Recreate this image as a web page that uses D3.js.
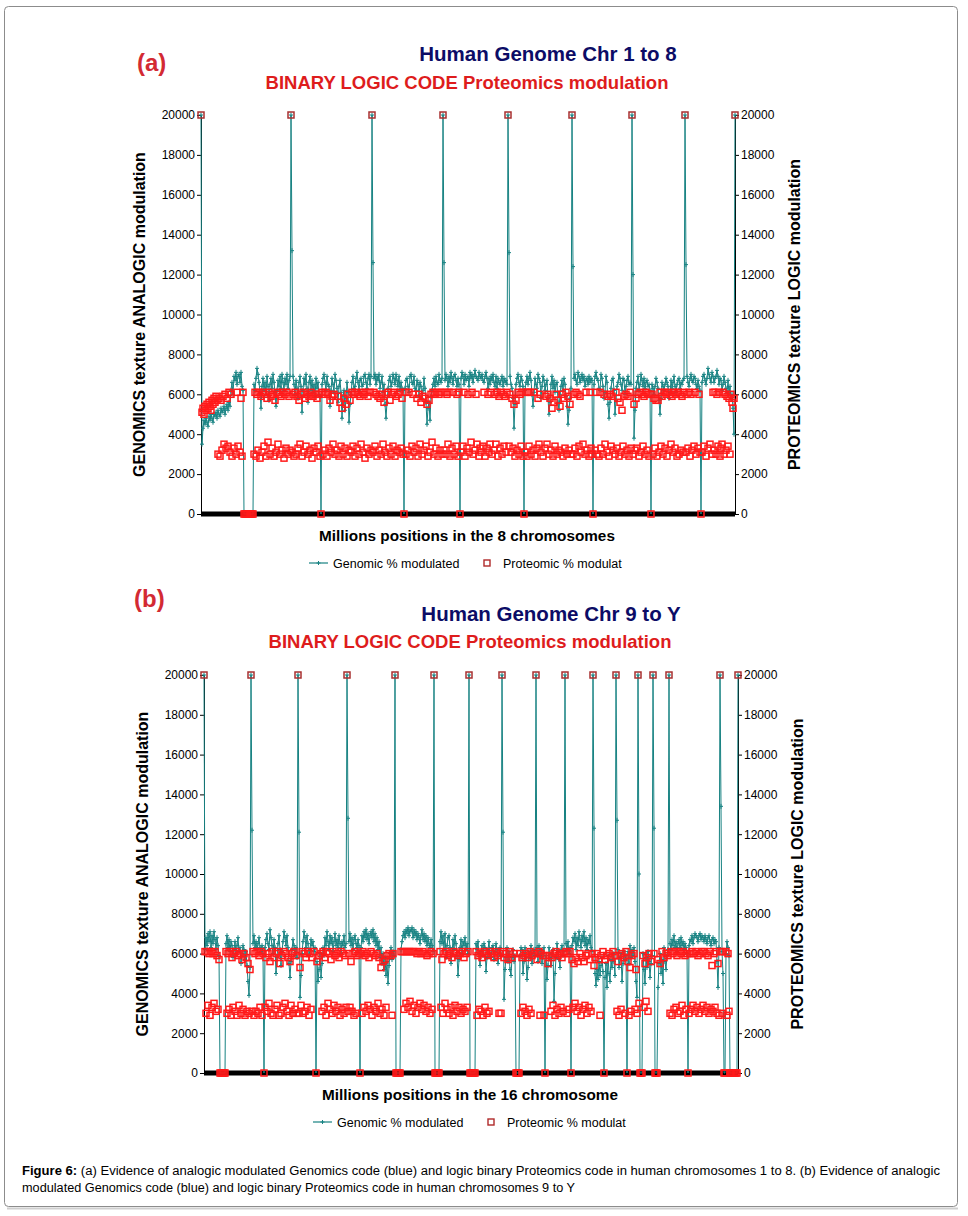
<!DOCTYPE html>
<html><head><meta charset="utf-8">
<script src="https://cdn.jsdelivr.net/npm/d3@7"></script>
<style>
body{margin:0;background:#fff}
svg{display:block}
text{font-family:"Liberation Sans",Arial,Helvetica,sans-serif}
</style>
</head><body>
<svg id="c" width="968" height="1216"></svg>
<script>
// ---------- DATA ----------
const yTicks = [0,2000,4000,6000,8000,10000,12000,14000,16000,18000,20000];

const genomicA = [20000,
3500,4300,4700,4500,4800,4600,4400,4900,4700,5000,
4800,4600,5000,4900,5100,4800,5200,5000,4900,5300,
5100,5200,5400,5000,5300,5500,5200,5600,5400,6200,
6600,6000,6900,6700,7100,6500,6900,7000,6600,7100,
6400,6200,
0,0,0,0,0,0,0,0,0,0,
6500,6200,6800,7300,7000,6600,6100,5300,6400,6800,
6200,6600,6000,6900,6400,5700,6500,6800,6300,7000,
6600,6100,5400,6200,6700,6400,6900,6300,7000,6600,
6200,6800,6500,7000,6300,6700,6900,
20000,13200,
6900,6500,6000,6700,6300,5800,6600,6900,6400,5100,
6200,6800,6500,7000,6300,5600,6600,6900,6200,6700,
6100,6500,5900,6800,6300,6600,6000,5900,
0,
6500,6800,7000,6600,6200,6900,6500,6400,5400,6200,
6800,6500,6100,7000,6700,6300,5600,6400,6700,6100,
4800,5900,6200,5200,5800,6600,6100,4600,5500,6000,
6600,6900,6300,6400,6800,7100,6600,6200,6700,6800,
6400,6500,6900,7000,6600,6300,6800,7000,6500,6900,
20000,12600,
6800,7000,6500,6900,6700,7000,6300,6600,6900,6100,
6500,5500,4800,5600,6300,6700,6900,6400,6600,7000,
6800,6500,7000,6700,6400,6900,6200,6600,6300,6200,
0,
6300,6700,6800,6400,6100,6900,7000,6600,6500,6900,
6300,6200,6700,6500,5900,6600,6400,5800,6200,6800,
6300,5600,4500,5300,5600,4700,5900,6200,6500,6800,
6400,6900,6600,6500,7000,6700,6600,6800,
20000,12600,
6700,7000,6800,6400,6900,6600,7100,6800,6500,6900,
7000,6700,6400,6800,6500,
0,
6800,7100,6900,6500,7000,6700,6800,6900,6400,7100,
6800,7000,6600,6900,7200,6900,6800,6700,7100,6900,
6800,7000,6700,6600,6900,7100,6800,6300,6800,6500,
6900,6700,7000,6600,6400,6900,6300,6800,6600,6500,
6700,6900,6400,6800,6600,6700,6500,
20000,13100,
6900,6500,6300,5800,4300,5500,6500,6800,7000,6600,
6400,6900,6700,6400,
0,
6200,6600,6900,6500,6800,7100,6700,6000,5400,6100,
6800,6500,6300,7000,6800,6600,5800,6400,6900,6700,
6200,6500,6700,5800,5000,5600,6500,6900,6300,6700,
6100,6500,6600,5600,5200,6000,6400,6700,6200,6800,
6500,5900,5400,4500,5200,5800,6300,
20000,12400,
6800,7000,6700,6500,7100,6900,6600,6800,7000,6700,
6900,6400,6700,6800,6500,6900,6600,6800,6700,
0,
6500,6900,7100,6800,6700,6300,6200,7000,6800,6400,
5800,6100,6900,6600,5500,4800,5600,6300,6700,6800,
6200,5000,5700,6400,6600,7000,6800,6500,6200,6800,
6700,6000,6400,6700,6900,6500,6600,6500,
20000,12000,
3800,5200,6300,6600,6900,6200,6500,7000,6700,6400,
6800,6300,6600,6700,6400,6500,6200,
0,
6500,6300,6000,6400,6800,6600,6300,5700,5000,5800,
6600,6400,6200,6500,6800,6600,6400,5800,6100,6700,
6300,6600,6900,6400,6100,6500,6700,6800,6300,6600,
6500,6700,6800,
20000,12500,
6900,6600,6400,6800,7000,6700,6600,6900,6800,6500,
6300,6700,6400,6200,
0,
6600,6900,7000,6700,6500,6800,7300,7000,6800,6600,
7100,6900,6600,6800,6900,7200,6900,6500,6800,6700,
6200,6500,6900,6600,6300,6100,6700,6000,6400,5800,
6000,5300,4000,
20000];

const proteomicA = [20000,
5100,5300,5000,5400,5200,5500,5300,5600,5400,5200,
5700,5500,5800,5600,5900,5700,3000,5800,2900,5700,
3200,5900,3500,6000,3300,5800,3400,6100,3100,6000,
2900,null,3300,null,3000,6100,3400,null,3100,5800,
2900,6100,
0,0,0,0,0,0,0,0,0,0,
3000,6100,2900,6000,3200,6100,2800,5900,3100,6100,
3400,6000,2900,5800,3600,6100,3000,5900,3300,6000,
2900,5700,3100,6100,3500,6000,3000,5900,3200,6100,
2800,6000,3300,6100,3000,5900,3200,
20000,3100,
6000,2900,6100,3000,5900,3300,5700,3500,6000,2900,
6100,3100,5800,3400,6000,3000,5900,3200,6100,2800,
5900,3300,6000,3100,5800,3400,6000,2900,
0,
6100,3000,6000,3200,6100,2900,6000,3300,5700,3100,
5900,3500,6000,3000,null,3200,5900,2900,5600,3400,
5300,3000,5800,3300,5500,2900,6000,3200,5700,3100,
6100,3400,6000,2900,6100,3300,6000,3000,5900,3500,
6100,3100,6000,2800,6100,3300,5900,3000,6100,3200,
20000,3100,
6100,3400,6000,2900,5900,3200,5800,3000,6000,3500,
5600,3100,6000,2900,6100,3300,5700,3000,6000,3400,
6100,2900,5900,3200,6000,3100,6100,3300,5800,3000,
0,
6100,3000,null,3200,6100,2900,null,3400,6000,3100,
null,3300,5800,2900,6000,3500,5600,3000,5900,3200,
5800,3400,5500,2900,5700,3100,6000,3600,6100,3000,
6000,3300,6100,2900,6000,3200,6100,3000,
20000,3200,
6100,3000,6000,3500,6100,2900,null,3300,6100,3000,
null,3400,6000,2900,6100,
0,
3100,null,3400,6100,2900,null,3300,6000,3100,null,
3600,6100,3000,null,3200,6000,3500,null,2900,3300,
3100,null,3400,6100,2900,null,3300,6000,3100,3500,
6100,3000,null,3200,6000,3500,6100,2900,5900,3300,
6100,3000,6000,3400,5900,3100,6100,
20000,3400,
6000,3100,5800,3300,5500,2900,5700,3200,6100,3000,
6000,3400,6100,2900,
0,
3100,6100,2900,6100,3400,6100,3000,null,3200,6100,
2900,null,3300,5800,3500,6000,3100,null,2900,null,
3300,5900,3500,6000,3000,5800,3200,5300,2900,5600,
3400,6000,3000,5700,3200,5400,3100,6000,2900,5800,
3300,6100,3000,5900,3200,5500,3000,
20000,3000,
6000,3300,6100,2900,6000,3400,5900,3100,null,3500,
null,3000,6100,3200,null,2900,6100,3300,3000,
0,
null,3200,6100,3000,null,2900,6100,3300,null,3000,
6000,3500,null,3100,5900,2900,6000,3400,5900,3200,
null,3000,6100,3300,5800,2900,5600,3100,5200,3400,
5900,3000,6000,3200,5900,2900,6100,3300,
20000,3000,
5500,3200,5800,3300,6000,2900,6100,3100,6000,3400,
5900,3000,6100,3200,6000,2900,6000,
0,
6000,3000,5800,3300,5700,2900,5700,3100,6100,3400,
5900,3000,6100,3300,6000,2900,6100,3200,6000,3500,
5900,3100,6100,3300,6000,2900,6100,3000,6000,3200,
5900,3100,6100,
20000,3100,
6000,3300,6100,2900,6000,3200,null,3400,6100,3000,
null,3300,6000,3100,
0,
3100,null,3400,null,2900,null,3300,null,3500,null,
3000,6100,3200,6100,3000,6000,3400,6100,2900,3300,
3500,6100,3000,6000,3200,5900,3400,5800,3000,6000,
5600,5300,5800,
20000];

const genomicB = [20000,
6200,6800,6400,7000,6600,7100,6300,6900,6500,7100,6700,6200,6800,6400,5900,
0,0,0,0,0,0,
6500,6900,6300,6700,6100,6600,6400,5800,6200,6600,
6000,6400,6800,6100,6300,5500,6000,6400,6200,5700,
6100,5400,4600,3900,5300,
20000,12200,
6500,6900,6300,6600,6200,6500,6800,6300,6100,6400,6000,
0,
6300,6700,7000,6500,6200,7200,6800,6400,6000,6700,
6300,5000,5800,6500,6900,6200,5400,6100,6600,7100,
6800,6400,6900,6300,5500,4800,5600,6200,6700,6400,
5900,6300,5800,
20000,12100,
3800,4900,6000,6600,7100,6800,6300,6900,6500,5900,6200,6700,6400,6600,6100,6300,
0,
5600,4600,5200,6000,4800,5500,6300,5900,6800,6400,
7100,6600,6200,6900,6500,6800,6100,6600,7000,6400,
6700,6300,6900,6500,6000,6600,6400,6900,6300,6500,
20000,12800,
6600,7000,6400,6800,6200,6700,6900,6500,6300,6700,6400,
0,
6300,6900,6600,7100,6800,7200,6700,7000,6500,6900,
7100,6800,7200,6600,7000,6400,6800,6200,6600,5800,
6300,5500,6000,5200,5800,4900,5600,4500,5400,6000,
6300,5700,6100,5900,
20000,
0,0,0,0,0,
6200,6600,6900,7100,6800,7200,7000,7300,6900,7200,
7100,7300,6800,7200,6900,7100,6700,7000,6800,6500,
6900,7200,6700,7000,6600,6900,6400,6800,6500,6300,
6700,6400,6100,
20000,
0,0,0,0,0,
6600,7100,6500,6900,6200,7000,5800,6400,6800,6900,
6300,5500,6000,6700,6200,6900,6500,5900,4900,5700,
6300,6700,6000,6600,6400,6800,6200,6500,6000,
20000,
0,0,0,0,0,0,
6500,6200,6600,6000,5400,6100,6400,5900,6500,6300,
5100,5800,6200,6600,6000,5800,6300,6400,5700,6100,
6500,6200,5500,6000,6300,5900,
20000,12100,
3700,5200,5800,6300,5600,6100,5200,4900,5800,6200,5600,5900,
0,0,0,0,
5900,6300,6200,5000,5600,6300,5800,4700,5300,6100,5800,6400,5500,6000,6200,5900,
20000,
6300,5600,6400,5900,6200,5500,6000,6300,
0,
5900,4700,5400,6300,5800,5400,6000,6200,3600,5000,
5800,6500,6100,5700,5300,6200,6400,5900,6100,
20000,
6500,6200,6600,6000,6300,
0,
6400,6800,6600,7000,6200,6800,6400,7100,6700,6300,
6900,6600,7100,6400,6800,6200,6700,6500,6900,6300,6100,
20000,12300,
5000,4400,5200,4700,5600,4900,5400,5800,5100,
0,
4800,5500,4300,5900,5000,4600,5700,5300,6000,5600,4900,
20000,12700,
6200,5300,5800,6000,4600,5500,6100,5700,5900,
0,
6100,5500,6400,5800,6200,5900,6300,5600,4600,3800,
20000,10000,
0,0,0,
6000,5200,4500,5800,5300,6100,5600,4800,5500,5900,
20000,12300,
0,0,0,
4300,5500,6000,5000,5700,4500,6300,5600,5200,5900,6200,
20000,
6500,6200,6700,6400,6900,6300,6600,6100,6500,6700,
6300,6800,6400,6600,6200,6500,6300,6000,
0,
6400,6700,6600,6900,6500,6800,7000,6900,6800,6600,
6900,7000,6700,6900,6800,6600,6900,6700,6500,6800,
6900,6600,6400,6700,6800,6500,6700,6600,5600,4300,6300,
20000,13400,
6100,5000,
0,0,
6000,6600,6300,5900,
0,0,0,0,0,0,0,0,
20000];

const proteomicB = [20000,
6100,3000,6100,3400,6000,2900,6100,3300,6000,3500,6100,3100,5900,3200,5700,
0,0,0,0,0,0,
6100,3000,6000,3200,6100,2900,5800,3300,6000,3100,
6100,2900,5900,3400,6000,3000,5700,3200,6000,2900,
5800,3100,5500,3000,5200,
20000,3100,
6100,2900,6000,3100,6100,3000,5900,3300,6100,2900,6000,
0,
3300,5800,3100,6000,3500,5600,3000,6100,2900,5800,
3200,6000,3400,6100,2900,5500,3000,5900,3300,6100,
3500,6000,3100,5800,2900,5600,3400,6000,3000,6100,
3200,5900,3000,
20000,3000,
5300,3400,6100,3000,6000,3100,5800,3300,6100,2900,6000,3200,5800,null,6100,null,
0,
5600,null,5900,null,6000,3100,6100,3300,5800,2900,
6100,3500,6000,3200,5700,3000,6100,3400,5900,3100,
6000,3300,5800,2900,6100,3200,6000,3000,5900,3300,
20000,3100,
6000,3300,5600,3100,6000,2900,6100,3000,5900,null,6000,
0,
6000,3000,6100,3300,5900,3100,6000,3400,5800,3200,
6100,2900,6000,3300,5900,3100,6000,3500,5800,3000,
5300,3200,5600,2900,5700,3300,5900,null,6000,null,
5900,2900,6000,null,
20000,
0,0,0,0,0,
6100,null,6100,3200,6100,3500,6100,3300,6100,3600,
6100,3100,6100,3400,6100,3000,6000,3300,6100,3500,
6000,3200,6100,3400,6000,3100,5900,3300,6000,3000,
6100,3200,6000,
20000,
0,0,0,0,0,
6100,3300,5700,3000,6000,3500,6100,3200,5900,3000,
6000,3300,5800,2900,6100,3400,6000,3100,5900,3300,
6000,3000,6100,3200,5800,3100,6000,3300,6100,
20000,
0,0,0,0,0,0,
6100,2900,5900,3200,6000,3100,5800,2900,6100,3300,
6000,3000,5900,3100,6100,null,6000,null,5800,null,
6100,null,5900,3000,6000,3000,
20000,6100,
5800,null,6000,null,5700,null,6100,null,5800,null,6000,null,
0,0,0,0,
6000,3000,5800,3300,5900,3100,6000,2900,5800,3200,6100,3000,5900,null,6000,null,
20000,
5700,null,6100,2900,6000,null,5900,2900,
0,
5900,null,5500,null,5900,3100,5800,3400,6000,2900,
6100,3200,5900,3000,6000,3300,5800,3100,6000,
20000,
6100,3000,6000,3200,6100,
0,
5700,3300,5500,3500,5800,3100,5600,3300,6000,2900,
5800,3200,5600,3400,5900,3000,6000,3300,5700,3100,6000,
20000,5400,
5800,null,6000,null,5700,2900,5900,null,6100,
0,
5700,null,5900,null,6000,null,5800,null,6100,null,5900,
20000,3100,
5600,2900,5900,3200,6000,null,5800,3000,6100,
0,
5600,2900,5300,3100,5900,null,6000,3200,5200,3000,
20000,3500,
0,0,0,
5900,3300,5500,3600,5800,3100,6000,null,5600,null,
20000,6000,
0,0,0,
5700,null,5500,null,6100,null,5800,null,6000,null,5900,
20000,
3000,6100,2900,6000,3200,6100,3300,5900,3000,6100,
3100,6000,3400,6100,2900,5900,3200,6000,
0,
3000,6000,3200,6100,3400,6000,3100,6100,3300,5900,
3000,6000,3200,6100,3400,6100,3100,6000,3300,5900,
3000,6100,3200,5400,3100,6000,3300,6100,3000,5500,2900,
20000,6100,
3000,6100,
0,0,
6100,2900,6000,3100,
0,0,0,0,0,0,0,0,
20000];

const seriesNames = ["Genomic % modulated","Proteomic % modulat"];

// ---------- DRAW ----------
const svg = d3.select("#c");
const TEAL = "#178282", RED = "#ff1a1a", NAVY = "#0c0c66", TRED = "#de1c1c", LRED = "#d32a33";

svg.append("line").attr("x1",7).attr("x2",958).attr("y1",1208.5).attr("y2",1208.5).attr("stroke","#cfcfcf").attr("stroke-width",2);
svg.append("rect").attr("x",4.5).attr("y",6.5).attr("width",953).attr("height",1200).attr("rx",4)
  .attr("fill","#fff").attr("stroke","#8c8c8c").attr("stroke-width",1);

const panels = [
  {lab:"(a)", labX:137, labY:71, t1:"Human Genome Chr 1 to 8", t1X:548, t1Y:61, t2X:467, t2Y:89,
   xt:"Millions positions in the 8 chromosomes", xtX:467, xtY:541, legY:563, legX:309,
   x0:201, x1:735, yt:115, yb:514, g:genomicA, p:proteomicA, ltX:145, rtX:800},
  {lab:"(b)", labX:134, labY:607, t1:"Human Genome Chr 9 to Y", t1X:551, t1Y:621, t2X:470, t2Y:648,
   xt:"Millions positions in the 16 chromosome", xtX:470, xtY:1100, legY:1122, legX:313,
   x0:204, x1:738, yt:675, yb:1073, g:genomicB, p:proteomicB, ltX:148, rtX:803}
];

panels.forEach(P => {
  const n = Math.max(P.g.length, P.p.length);
  const x = d3.scaleLinear().domain([0, n-1]).range([P.x0, P.x1]);
  const y = d3.scaleLinear().domain([0, 20000]).range([P.yb, P.yt]);
  const G = svg.append("g");

  G.append("text").attr("x",P.labX).attr("y",P.labY).attr("font-size",24).attr("font-weight","bold")
    .attr("fill",LRED).text(P.lab);
  G.append("text").attr("x",P.t1X).attr("y",P.t1Y).attr("text-anchor","middle").attr("font-size",20.5)
    .attr("font-weight","bold").attr("fill",NAVY).text(P.t1);
  G.append("text").attr("x",P.t2X).attr("y",P.t2Y).attr("text-anchor","middle").attr("font-size",18.5)
    .attr("font-weight","bold").attr("fill",TRED).text("BINARY LOGIC CODE Proteomics modulation");

  G.append("line").attr("x1",P.x0).attr("x2",P.x1).attr("y1",P.yb).attr("y2",P.yb)
    .attr("stroke","#000").attr("stroke-width",5);

  const la = G.append("g").attr("transform",`translate(${P.x0},0)`)
    .call(d3.axisLeft(y).tickValues(yTicks).tickSize(4).tickSizeOuter(0).tickPadding(2).tickFormat(d3.format("d")));
  const ra = G.append("g").attr("transform",`translate(${P.x1},0)`)
    .call(d3.axisRight(y).tickValues(yTicks).tickSize(4).tickSizeOuter(0).tickPadding(2).tickFormat(d3.format("d")));
  [la,ra].forEach(a => {
    a.attr("font-family",null).attr("font-size",null);
    a.selectAll("text").attr("font-size",12).attr("fill","#000");
    a.select(".domain").attr("stroke","#000");
  });

  const cy = (P.yt+P.yb)/2;
  G.append("text").attr("transform",`translate(${P.ltX},${cy}) rotate(-90)`).attr("text-anchor","middle")
    .attr("font-size",16).attr("font-weight","bold").text("GENOMICS texture ANALOGIC modulation");
  G.append("text").attr("transform",`translate(${P.rtX},${cy}) rotate(-90)`).attr("text-anchor","middle")
    .attr("font-size",16).attr("font-weight","bold").text("PROTEOMICS texture LOGIC modulation");
  G.append("text").attr("x",P.xtX).attr("y",P.xtY).attr("text-anchor","middle").attr("font-size",15.3)
    .attr("font-weight","bold").text(P.xt);

  const line = d3.line().defined(d => d != null).x((d,i) => x(i)).y(d => y(d));
  G.append("path").datum(P.g).attr("d",line).attr("fill","none").attr("stroke",TEAL).attr("stroke-width",1);
  const gp = P.g.map((v,i)=>({v,i})).filter(d => d.v != null && d.v > 0);
  G.append("g").selectAll("path").data(gp).join("path")
    .attr("transform",d=>`translate(${x(d.i)},${y(d.v)})`).attr("d","M-2,0H2M0,-2.5V2.5")
    .attr("stroke",TEAL).attr("stroke-width",1);

  const pp = P.p.map((v,i)=>({v,i})).filter(d => d.v != null);
  G.append("g").selectAll("rect").data(pp).join("rect")
    .attr("x",d=>x(d.i)-3).attr("y",d=>y(d.v)-3).attr("width",6).attr("height",6)
    .attr("fill","none").attr("stroke",d => (d.v===20000) ? "#a83030" : RED).attr("stroke-width",1.5);

  const L = G.append("g").attr("transform",`translate(${P.legX},${P.legY})`);
  L.append("line").attr("x1",0).attr("x2",19).attr("y1",0).attr("y2",0).attr("stroke",TEAL).attr("stroke-width",1.2);
  L.append("path").attr("d","M7.5,0H11.5M9.5,-2V2").attr("stroke",TEAL);
  L.append("text").attr("x",24).attr("y",4.5).attr("font-size",12.5).text(seriesNames[0]);
  L.append("rect").attr("x",175).attr("y",-3).attr("width",6).attr("height",6).attr("fill","none")
    .attr("stroke","#b02a2a").attr("stroke-width",1.4);
  L.append("text").attr("x",194).attr("y",4.5).attr("font-size",12.5).text(seriesNames[1]);
});

const cap1 = svg.append("text").attr("x",22).attr("y",1175).attr("font-size",12.5)
  .attr("textLength",918).attr("lengthAdjust","spacingAndGlyphs");
cap1.append("tspan").attr("font-weight","bold").text("Figure 6: ");
cap1.append("tspan").text("(a) Evidence of analogic modulated Genomics code (blue) and logic binary Proteomics code in human chromosomes 1 to 8.  (b) Evidence of analogic");
svg.append("text").attr("x",22).attr("y",1192).attr("font-size",12.5)
  .attr("textLength",553).attr("lengthAdjust","spacingAndGlyphs")
  .text("modulated Genomics code (blue) and logic binary Proteomics code in human chromosomes 9 to Y");
</script>
</body></html>
